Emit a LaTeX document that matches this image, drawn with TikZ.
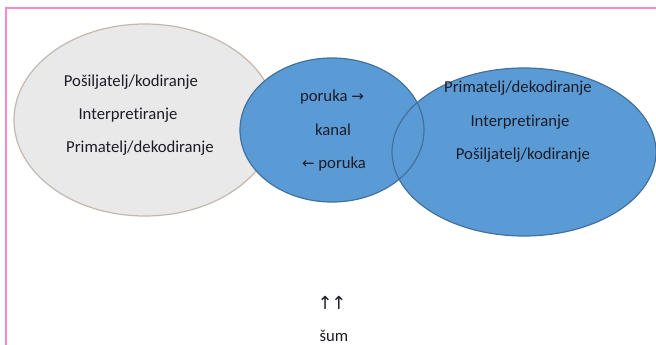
\documentclass[tikz,border=0pt]{standalone}
\usepackage{fontspec}
\setmainfont[Ligatures=NoCommon]{Carlito}
\newfontfamily\arrfont{DejaVu Sans}
\definecolor{framepink}{HTML}{FF88C8}
\definecolor{greyfill}{HTML}{E9E9E9}
\definecolor{greyline}{HTML}{C4B8AC}
\definecolor{bluefill}{HTML}{5B9BD5}
\definecolor{blueline}{HTML}{41719C}
\definecolor{txt}{HTML}{1C1C28}
\tikzset{
  lbl/.style={text=txt, font=\fontsize{16.7}{19}\selectfont, inner sep=0pt, anchor=center},
  blob/.style={line width=1.2pt}
}
\begin{document}
\begin{tikzpicture}[x=1pt,y=-1pt]
\useasboundingbox (0,0) rectangle (656,345);
\fill[white] (0,0) rectangle (656,345);
% frame
\draw[framepink, line width=1.6pt] (6,345) -- (6,8) -- (656,8);
% ellipses
\path[fill=greyfill, draw=greyline, blob] (145,120) ellipse [x radius=131, y radius=96];
\path[fill=bluefill] (524,152) ellipse [x radius=132, y radius=84];
\path[fill=bluefill] (332,130) ellipse [x radius=92, y radius=72];
\path[draw=blueline, blob] (524,152) ellipse [x radius=132, y radius=84];
\path[draw=blueline, blob] (332,130) ellipse [x radius=92, y radius=72];
% left texts
\node[lbl] (l1) at (131,82) {Pošiljatelj/kodiranje};
\node[lbl] (l2) at (128,115) {Interpretiranje};
\node[lbl] (l3) at (140,148) {Primatelj/dekodiranje};
% middle
\node[lbl] (m1) at (332,97) {poruka {\arrfont\fontsize{15}{17}\selectfont →}};
\node[lbl] (m2) at (333,130) {kanal};
\node[lbl] (m3) at (334,164) {{\arrfont\fontsize{15}{17}\selectfont ←} poruka};
% right
\node[lbl] (r1) at (518,88) {Primatelj/dekodiranje};
\node[lbl] (r2) at (520,122) {Interpretiranje};
\node[lbl] (r3) at (523,155) {Pošiljatelj/kodiranje};
% bottom
\node[lbl] (up) at (332,303) {\arrfont\fontsize{18}{20}\selectfont ↑\kern-1.5pt↑};
\node[lbl] (sum) at (334,336) {šum};
\end{tikzpicture}
\end{document}
